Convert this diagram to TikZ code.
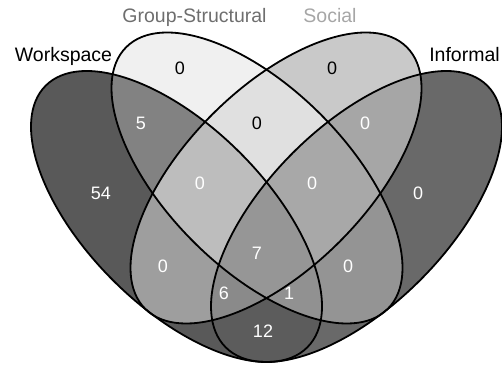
\documentclass[tikz,border=0pt]{standalone}
\usepackage{fontspec}
\setmainfont{Liberation Sans}
\definecolor{cA}{gray}{0.35}
\definecolor{cB}{gray}{0.94}
\definecolor{cC}{gray}{0.79}
\definecolor{cD}{gray}{0.41}
\definecolor{cAB}{gray}{0.51}
\definecolor{cAC}{gray}{0.62}
\definecolor{cAD}{gray}{0.36}
\definecolor{cBC}{gray}{0.88}
\definecolor{cBD}{gray}{0.58}
\definecolor{cCD}{gray}{0.65}
\definecolor{cABC}{gray}{0.74}
\definecolor{cABD}{gray}{0.57}
\definecolor{cACD}{gray}{0.54}
\definecolor{cBCD}{gray}{0.66}
\definecolor{cABCD}{gray}{0.59}
\definecolor{gsgray}{gray}{0.43}
\definecolor{socgray}{gray}{0.65}
\newcommand\ellA{[rotate around={-45:(176.5,149.5)}] (176.5,149.5) ellipse [x radius=185pt, y radius=90pt]}
\newcommand\ellB{[rotate around={-45:(257,188)}] (257,188) ellipse [x radius=185pt, y radius=90pt]}
\newcommand\ellC{[rotate around={45:(276,188)}] (276,188) ellipse [x radius=185pt, y radius=90pt]}
\newcommand\ellD{[rotate around={45:(356.5,149.5)}] (356.5,149.5) ellipse [x radius=185pt, y radius=90pt]}
\newcommand\clipA{\clip\ellA;}
\newcommand\clipB{\clip\ellB;}
\newcommand\clipC{\clip\ellC;}
\newcommand\clipD{\clip\ellD;}
\newcommand\regfill[2]{\begin{scope}#1\fill[#2] (0,0) rectangle (502,366);\end{scope}}
\tikzset{
  num/.style={font=\fontsize{18}{18}\selectfont, inner sep=0pt, text=white},
  numdark/.style={num, text=black},
  setlabel/.style={font=\fontsize{19.5}{20}\selectfont, inner sep=0pt, anchor=base},
  outline/.style={draw=black, line width=1.8pt}
}
\begin{document}
\begin{tikzpicture}[x=1pt,y=1pt]
\useasboundingbox (0,0) rectangle (502,366);
% single sets
\regfill{\clipA}{cA}
\regfill{\clipB}{cB}
\regfill{\clipC}{cC}
\regfill{\clipD}{cD}
% pairs
\regfill{\clipA\clipB}{cAB}
\regfill{\clipA\clipC}{cAC}
\regfill{\clipA\clipD}{cAD}
\regfill{\clipB\clipC}{cBC}
\regfill{\clipB\clipD}{cBD}
\regfill{\clipC\clipD}{cCD}
% triples
\regfill{\clipA\clipB\clipC}{cABC}
\regfill{\clipA\clipB\clipD}{cABD}
\regfill{\clipA\clipC\clipD}{cACD}
\regfill{\clipB\clipC\clipD}{cBCD}
% all four
\regfill{\clipA\clipB\clipC\clipD}{cABCD}
% outlines
\draw[outline]\ellA;
\draw[outline]\ellB;
\draw[outline]\ellC;
\draw[outline]\ellD;
% counts
\node[num] (nA) at (101,173) {54};
\node[numdark] (nB) at (180,298) {0};
\node[numdark] (nC) at (332,298) {0};
\node[num] (nD) at (418,173) {0};
\node[num] (nAB) at (141,243) {5};
\node[numdark] (nBC) at (257,243) {0};
\node[num] (nCD) at (365,243) {0};
\node[num] (nABC) at (200,183) {0};
\node[num] (nBCD) at (312,183) {0};
\node[num] (nAC) at (163,100) {0};
\node[num] (nBD) at (348,100) {0};
\node[num] (nABCD) at (257,113) {7};
\node[num] (nACD) at (224,73) {6};
\node[num] (nABD) at (289,73) {1};
\node[num] (nAD) at (263,35) {12};
% set labels
\node[setlabel] (lA) at (63.5,304) {Workspace};
\node[setlabel, text=gsgray] (lB) at (194.5,343) {Group-Structural};
\node[setlabel, text=socgray] (lC) at (330,343) {Social};
\node[setlabel] (lD) at (464.5,304) {Informal};
\end{tikzpicture}
\end{document}
